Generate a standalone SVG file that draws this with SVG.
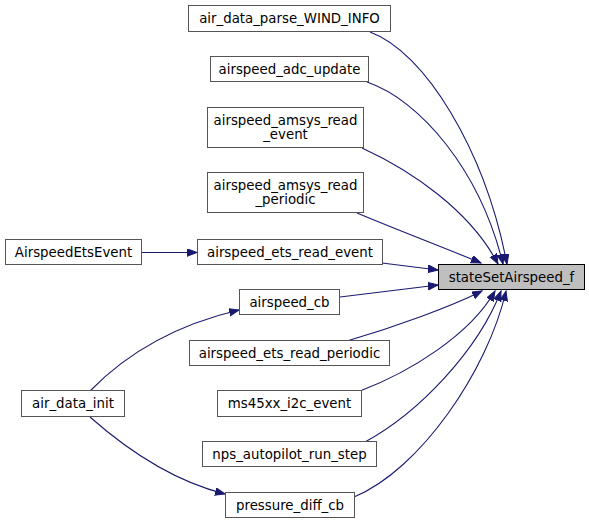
<svg xmlns="http://www.w3.org/2000/svg" width="589" height="524" viewBox="0 0 589 524">
<style>
.n rect{fill:#ffffff;stroke:#555555;stroke-width:1}
.t rect{fill:#bfbfbf;stroke:#000000;stroke-width:1}
text{font-family:"DejaVu Sans",sans-serif;font-size:13.33px;fill:#000000;text-anchor:middle}
.e path{fill:none;stroke:#191970;stroke-width:1.1;marker-end:url(#ah)}
</style>
<defs>
<marker id="ah" markerUnits="userSpaceOnUse" markerWidth="12" markerHeight="9" refX="10" refY="3.8" orient="auto">
<path d="M0,0 L10,3.8 L0,7.6 z" fill="#191970" stroke="#191970" stroke-width="1"/>
</marker>
</defs>
<rect width="589" height="524" fill="#ffffff"/>
<g class="e" id="edges">
<path d="M370,32 C425,52 485,150 507,264"/>
<path d="M367,82 C420,100 480,170 503,264"/>
<path d="M362,148 C410,170 470,210 498,264"/>
<path d="M357,213 C400,231 450,250 481,263"/>
<path d="M382,263 L438,270"/>
<path d="M141,252.5 L197,252.5"/>
<path d="M340,297 L438,285"/>
<path d="M90,391 C125,355 175,325 239,310"/>
<path d="M90,417 C125,448 170,480 225,494"/>
<path d="M347,341 C395,327 450,307 482,291"/>
<path d="M360,391 C410,372 470,335 495,291"/>
<path d="M365,442 C420,412 478,350 501,291"/>
<path d="M354,497 C420,470 488,370 506,291"/>
</g>
<g class="n" id="n_wind"><rect x="188.5" y="5.5" width="202" height="26"/><text x="289.5" y="23">air_data_parse_WIND_INFO</text></g>
<g class="n" id="n_adc"><rect x="210.5" y="56.5" width="158" height="25"/><text x="289.5" y="73.5">airspeed_adc_update</text></g>
<g class="n" id="n_amsys_ev"><rect x="207.5" y="107.5" width="156" height="40"/><text x="285.5" y="124.5">airspeed_amsys_read</text><text x="285.5" y="139">_event</text></g>
<g class="n" id="n_amsys_per"><rect x="207.5" y="172.5" width="156" height="40"/><text x="285.5" y="189.5">airspeed_amsys_read</text><text x="285.5" y="204">_periodic</text></g>
<g class="n" id="n_etsev"><rect x="5.5" y="239.5" width="136" height="25"/><text x="73.5" y="256.5">AirspeedEtsEvent</text></g>
<g class="n" id="n_ets_read_ev"><rect x="197.5" y="239.5" width="185" height="25"/><text x="290" y="256.5">airspeed_ets_read_event</text></g>
<g class="n" id="n_cb"><rect x="239.5" y="289.5" width="100" height="25"/><text x="289.5" y="306.5">airspeed_cb</text></g>
<g class="t" id="n_target"><rect x="438.5" y="264.5" width="146" height="25"/><text x="511.5" y="281.5">stateSetAirspeed_f</text></g>
<g class="n" id="n_ets_per"><rect x="189.5" y="340.5" width="200" height="25"/><text x="289.5" y="357.5">airspeed_ets_read_periodic</text></g>
<g class="n" id="n_init"><rect x="21.5" y="390.5" width="103" height="26"/><text x="73" y="408">air_data_init</text></g>
<g class="n" id="n_ms45"><rect x="217.5" y="390.5" width="144" height="26"/><text x="289.5" y="408">ms45xx_i2c_event</text></g>
<g class="n" id="n_nps"><rect x="202.5" y="441.5" width="174" height="25"/><text x="289.5" y="458.5">nps_autopilot_run_step</text></g>
<g class="n" id="n_pdiff"><rect x="225.5" y="492.5" width="129" height="25"/><text x="290" y="509.5">pressure_diff_cb</text></g>
</svg>
